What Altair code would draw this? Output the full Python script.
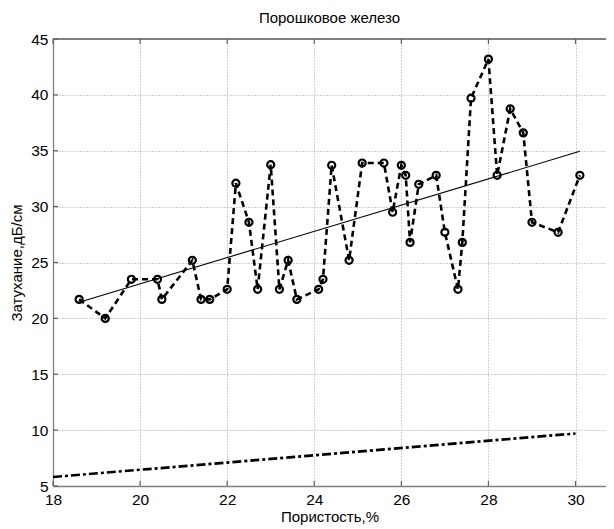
import altair as alt
import pandas as pd

# measured data (porosity %, attenuation dB/cm)
por = [18.6, 19.2, 19.8, 20.4, 20.5, 21.2, 21.4, 21.6, 22.0, 22.2, 22.5, 22.7,
       23.0, 23.2, 23.4, 23.6, 24.1, 24.2, 24.4, 24.8, 25.1, 25.6, 25.8, 26.0,
       26.1, 26.2, 26.4, 26.8, 27.0, 27.3, 27.4, 27.6, 28.0, 28.2, 28.5, 28.8,
       29.0, 29.6, 30.1]
att = [21.7, 20.0, 23.5, 23.5, 21.7, 25.2, 21.7, 21.7, 22.6, 32.1, 28.6, 22.6,
       33.75, 22.6, 25.2, 21.7, 22.6, 23.5, 33.7, 25.2, 33.9, 33.9, 29.5, 33.7,
       32.8, 26.8, 32.0, 32.8, 27.7, 22.6, 26.8, 39.7, 43.2, 32.8, 38.75, 36.6,
       28.6, 27.7, 32.8]

# linear trend of the measurements
trend_x = [18.6, 30.1]
trend_y = [21.45, 34.95]

# calculated (dash-dot) curve
calc_x = [18, 30]
calc_y = [5.8, 9.7]

x_ticks = [18, 20, 22, 24, 26, 28, 30]
y_ticks = [5, 10, 15, 20, 25, 30, 35, 40, 45]

X_MIN, X_MAX = 18, 30.7
Y_MIN, Y_MAX = 5, 45
TICK_X = 0.115   # inward tick length in x units (~5px)
TICK_Y = 0.45    # inward tick length in y units (~5px)

df = pd.DataFrame({"x": por, "y": att})
dft = pd.DataFrame({"x": trend_x, "y": trend_y})
dfc = pd.DataFrame({"x": calc_x, "y": calc_y})
dxt = pd.DataFrame({"t": x_ticks})
dyt = pd.DataFrame({"t": y_ticks})

FONT = "Liberation Sans"

xs = alt.Scale(domain=[X_MIN, X_MAX], nice=False, zero=False)
ys = alt.Scale(domain=[Y_MIN, Y_MAX], nice=False, zero=False)

xax = alt.Axis(values=x_ticks, title="Пористость,%", grid=True, tickSize=0,
               labelPadding=6, labelFontSize=15.5, titleFontSize=15,
               titleBaseline="alphabetic", titleY=35, labelFlush=False)
yax = alt.Axis(values=y_ticks, title="Затухание,дБ/см", grid=True, tickSize=0,
               labelPadding=5, titlePadding=6, labelFontSize=15.5, titleFontSize=15)

X = alt.X("x:Q", scale=xs, axis=xax)
Y = alt.Y("y:Q", scale=ys, axis=yax)

base = alt.Chart(df)

meas_line = base.mark_line(color="black", strokeWidth=2.6, strokeDash=[6, 4]).encode(x=X, y=Y)
meas_pts = base.mark_point(shape="circle", filled=False, color="black", size=50,
                           strokeWidth=2.2, opacity=1).encode(x=X, y=Y)
trend = alt.Chart(dft).mark_line(color="black", strokeWidth=1.1).encode(x=X, y=Y)
calc = alt.Chart(dfc).mark_line(color="black", strokeWidth=2.6,
                                strokeDash=[9, 3, 3, 3]).encode(x=X, y=Y)
top_border = alt.Chart(df).mark_rule(color="#808080", strokeWidth=1.3).encode(y=alt.datum(Y_MAX))

tick_col = "#606060"
y_ticks_left = alt.Chart(dyt).mark_rule(color=tick_col, strokeWidth=1.2).encode(
    y=alt.Y("t:Q", scale=ys, axis=yax), x=alt.datum(X_MIN),
    x2=alt.datum(X_MIN + TICK_X))
x_ticks_bottom = alt.Chart(dxt).mark_rule(color=tick_col, strokeWidth=1.2).encode(
    x=alt.X("t:Q", scale=xs, axis=xax), y=alt.datum(Y_MIN), y2=alt.datum(Y_MIN + TICK_Y))
x_ticks_top = alt.Chart(dxt).mark_rule(color=tick_col, strokeWidth=1.2).encode(
    x=alt.X("t:Q", scale=xs, axis=xax), y=alt.datum(Y_MAX), y2=alt.datum(Y_MAX - TICK_Y))

chart = alt.layer(top_border, y_ticks_left, x_ticks_bottom, x_ticks_top,
                  calc, trend, meas_line, meas_pts).properties(
    width=553,
    height=447,
    title=alt.TitleParams("Порошковое железо", fontSize=15, font=FONT,
                          fontWeight="normal", color="black", offset=6),
    autosize=alt.AutoSizeParams(type="none"),
    padding={"left": 45, "top": 31, "right": 0, "bottom": 40},
).configure(font=FONT).configure_view(strokeWidth=0, stroke="transparent").configure_axis(
    labelFont=FONT, titleFont=FONT, labelColor="black", titleColor="black",
    titleFontWeight="normal", domainColor="#808080", domainWidth=1.3,
    gridColor="#a0a0a0", gridDash=[1, 2], gridWidth=1, gridOpacity=1,
)

chart.save("out.html", embed_options={"renderer": "svg", "actions": False})
